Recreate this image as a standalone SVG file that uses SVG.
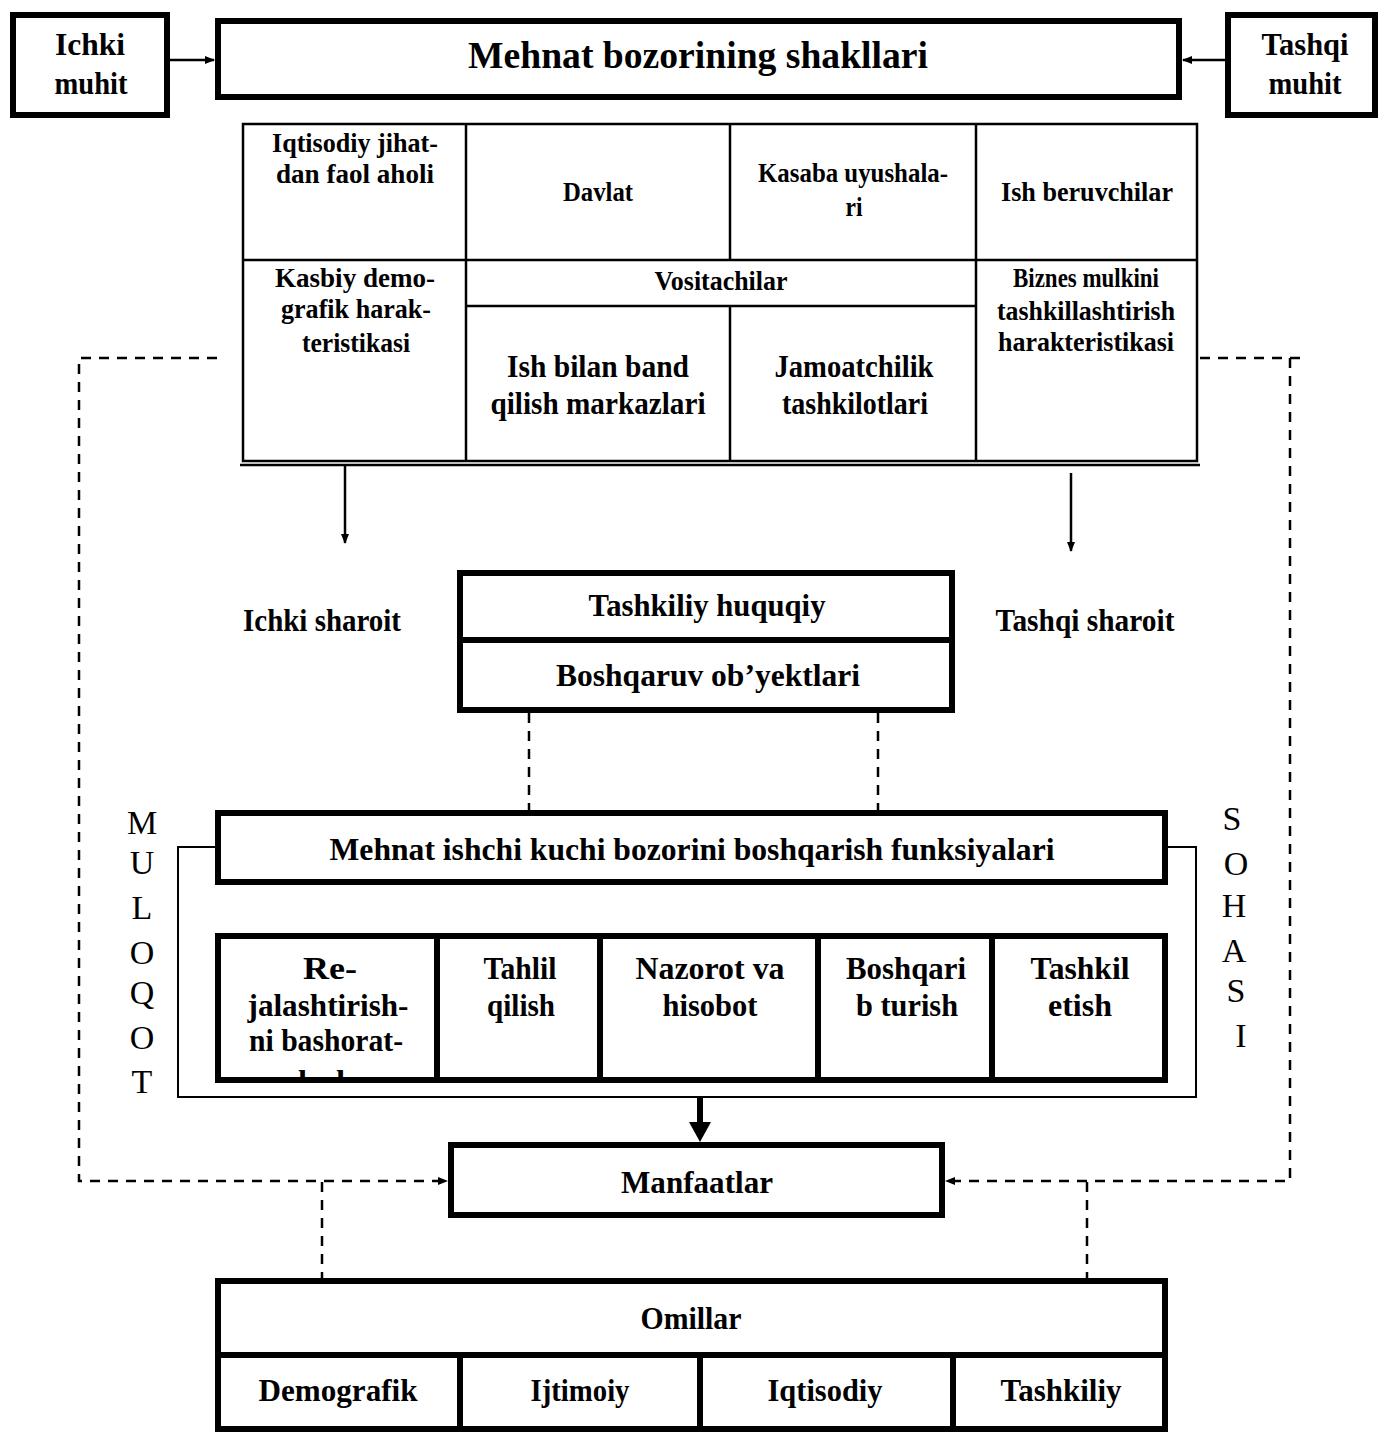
<svg xmlns="http://www.w3.org/2000/svg" width="1378" height="1434" viewBox="0 0 1378 1434">
<defs>
<style>
.thick{fill:#fff;stroke:#000;stroke-width:6}
.thin{fill:#fff;stroke:#000;stroke-width:2.5}
.ln{fill:none;stroke:#000;stroke-width:2.5}
.ln6{fill:none;stroke:#000;stroke-width:6}
.dash{fill:none;stroke:#000;stroke-width:2.5;stroke-dasharray:10 8}
.frame{fill:none;stroke:#000;stroke-width:2}
text{font-family:"Liberation Serif","Times New Roman",serif;fill:#000}
.b{font-weight:bold;text-anchor:middle}
.s27{font-size:27px}
.s31{font-size:31px}
.s32{font-size:32px}
.big{font-size:38px}
.let{font-size:34px;text-anchor:middle}
</style>
<marker id="ah" markerWidth="10" markerHeight="10" refX="9" refY="5" orient="auto" markerUnits="userSpaceOnUse">
<path d="M0,1 L10,5 L0,9 Z" fill="#000"/>
</marker>
<clipPath id="clipRe"><rect x="221" y="939" width="213" height="138"/></clipPath>
</defs>

<g id="connectors">
<line class="ln" x1="170" y1="60" x2="214" y2="60" marker-end="url(#ah)"/>
<line class="ln" x1="1225" y1="60" x2="1183" y2="60" marker-end="url(#ah)"/>
<line class="ln" x1="345" y1="466" x2="345" y2="543" marker-end="url(#ah)"/>
<line class="ln" x1="1071" y1="473" x2="1071" y2="551" marker-end="url(#ah)"/>
<polyline class="dash" points="217,358 79,358 79,1181 447,1181" marker-end="url(#ah)"/>
<polyline class="dash" points="1200,358 1305,358"/>
<polyline class="dash" points="1290,358 1290,1181 946,1181" marker-end="url(#ah)"/>
<line class="dash" x1="529" y1="713" x2="529" y2="810"/>
<line class="dash" x1="878" y1="713" x2="878" y2="810"/>
<line class="dash" x1="322" y1="1182" x2="322" y2="1278"/>
<line class="dash" x1="1087" y1="1182" x2="1087" y2="1278"/>
<polyline class="frame" points="215,847 178,847 178,1097 1196,1097 1196,847 1168,847"/>
<line class="ln6" x1="700" y1="1097" x2="700" y2="1124"/>
<polygon points="689,1122 711,1122 700,1142" fill="#000"/>
</g>

<g id="ichki-muhit">
<rect class="thick" x="13" y="15" width="154" height="100"/>
<text class="b s31" x="90" y="55" textLength="70" lengthAdjust="spacingAndGlyphs">Ichki</text>
<text class="b s31" x="91" y="94" textLength="73" lengthAdjust="spacingAndGlyphs">muhit</text>
</g>

<g id="title">
<rect class="thick" x="218" y="21" width="961" height="76"/>
<text class="b big" x="698" y="68" textLength="460" lengthAdjust="spacingAndGlyphs">Mehnat bozorining shakllari</text>
</g>

<g id="tashqi-muhit">
<rect class="thick" x="1228" y="15" width="147" height="100"/>
<text class="b s31" x="1305" y="55" textLength="87" lengthAdjust="spacingAndGlyphs">Tashqi</text>
<text class="b s31" x="1305" y="94" textLength="73" lengthAdjust="spacingAndGlyphs">muhit</text>
</g>

<g id="table">
<rect class="thin" x="243" y="124" width="954" height="337"/>
<line class="ln" x1="466" y1="124" x2="466" y2="461"/>
<line class="ln" x1="730" y1="124" x2="730" y2="260"/>
<line class="ln" x1="730" y1="306" x2="730" y2="461"/>
<line class="ln" x1="976" y1="124" x2="976" y2="461"/>
<line class="ln" x1="243" y1="260" x2="1197" y2="260"/>
<line class="ln" x1="466" y1="306" x2="976" y2="306"/>
<line class="ln" x1="240" y1="465" x2="1200" y2="465"/>
</g>

<g id="iqtisodiy-faol-aholi">
<text class="b s27" x="355" y="152" textLength="166" lengthAdjust="spacingAndGlyphs">Iqtisodiy jihat-</text>
<text class="b s27" x="355" y="183" textLength="158" lengthAdjust="spacingAndGlyphs">dan faol aholi</text>
</g>
<g id="davlat"><text class="b s27" x="598" y="201" textLength="70" lengthAdjust="spacingAndGlyphs">Davlat</text></g>
<g id="kasaba">
<text class="b s27" x="853" y="182" textLength="190" lengthAdjust="spacingAndGlyphs">Kasaba uyushala-</text>
<text class="b s27" x="854" y="216" textLength="17" lengthAdjust="spacingAndGlyphs">ri</text>
</g>
<g id="ish-beruvchilar"><text class="b s27" x="1087" y="201" textLength="172" lengthAdjust="spacingAndGlyphs">Ish beruvchilar</text></g>
<g id="kasbiy">
<text class="b s27" x="355" y="287" textLength="160" lengthAdjust="spacingAndGlyphs">Kasbiy demo-</text>
<text class="b s27" x="356" y="318" textLength="150" lengthAdjust="spacingAndGlyphs">grafik harak-</text>
<text class="b s27" x="356" y="352" textLength="108" lengthAdjust="spacingAndGlyphs">teristikasi</text>
</g>
<g id="vositachilar"><text class="b s27" x="721" y="290" textLength="133" lengthAdjust="spacingAndGlyphs">Vositachilar</text></g>
<g id="ish-bilan-band">
<text class="b s32" x="598" y="377" textLength="182" lengthAdjust="spacingAndGlyphs">Ish bilan band</text>
<text class="b s32" x="598" y="414" textLength="215" lengthAdjust="spacingAndGlyphs">qilish markazlari</text>
</g>
<g id="jamoatchilik">
<text class="b s32" x="854" y="377" textLength="159" lengthAdjust="spacingAndGlyphs">Jamoatchilik</text>
<text class="b s32" x="855" y="414" textLength="146" lengthAdjust="spacingAndGlyphs">tashkilotlari</text>
</g>
<g id="biznes">
<text class="b s27" x="1086" y="287" textLength="146" lengthAdjust="spacingAndGlyphs">Biznes mulkini</text>
<text class="b s27" x="1086" y="320" textLength="178" lengthAdjust="spacingAndGlyphs">tashkillashtirish</text>
<text class="b s27" x="1086" y="351" textLength="176" lengthAdjust="spacingAndGlyphs">harakteristikasi</text>
</g>

<g id="ichki-sharoit"><text class="b s31" x="322" y="631" textLength="158" lengthAdjust="spacingAndGlyphs">Ichki sharoit</text></g>
<g id="tashqi-sharoit"><text class="b s31" x="1085" y="631" textLength="179" lengthAdjust="spacingAndGlyphs">Tashqi sharoit</text></g>

<g id="tashkiliy-huquqiy">
<rect class="thick" x="460" y="573" width="492" height="137"/>
<line class="ln6" x1="460" y1="640" x2="952" y2="640"/>
<text class="b s31" x="707" y="616" textLength="237" lengthAdjust="spacingAndGlyphs">Tashkiliy huquqiy</text>
<text class="b s31" x="708" y="686" textLength="304" lengthAdjust="spacingAndGlyphs">Boshqaruv ob’yektlari</text>
</g>

<g id="funksiyalar">
<rect class="thick" x="218" y="813" width="947" height="69"/>
<text class="b s31" x="692" y="860" textLength="725" lengthAdjust="spacingAndGlyphs">Mehnat ishchi kuchi bozorini boshqarish funksiyalari</text>
</g>

<g id="funksiya-cells">
<rect class="thick" x="218" y="936" width="947" height="144"/>
<line class="ln6" x1="437" y1="936" x2="437" y2="1080"/>
<line class="ln6" x1="600" y1="936" x2="600" y2="1080"/>
<line class="ln6" x1="818" y1="936" x2="818" y2="1080"/>
<line class="ln6" x1="992" y1="936" x2="992" y2="1080"/>
</g>
<g id="rejalashtirish" clip-path="url(#clipRe)">
<text class="b s32" x="330" y="979" textLength="54" lengthAdjust="spacingAndGlyphs">Re-</text>
<text class="b s32" x="328" y="1016" textLength="161" lengthAdjust="spacingAndGlyphs">jalashtirish-</text>
<text class="b s32" x="326" y="1051" textLength="154" lengthAdjust="spacingAndGlyphs">ni bashorat-</text>
<text class="b s32" x="326" y="1092" textLength="56" lengthAdjust="spacingAndGlyphs">lash</text>
</g>
<g id="tahlil">
<text class="b s32" x="520" y="979" textLength="73" lengthAdjust="spacingAndGlyphs">Tahlil</text>
<text class="b s32" x="521" y="1016" textLength="68" lengthAdjust="spacingAndGlyphs">qilish</text>
</g>
<g id="nazorot">
<text class="b s32" x="710" y="979" textLength="149" lengthAdjust="spacingAndGlyphs">Nazorot va</text>
<text class="b s32" x="710" y="1016" textLength="95" lengthAdjust="spacingAndGlyphs">hisobot</text>
</g>
<g id="boshqarib">
<text class="b s32" x="906" y="979" textLength="120" lengthAdjust="spacingAndGlyphs">Boshqari</text>
<text class="b s32" x="907" y="1016" textLength="102" lengthAdjust="spacingAndGlyphs">b turish</text>
</g>
<g id="tashkil">
<text class="b s32" x="1080" y="979" textLength="99" lengthAdjust="spacingAndGlyphs">Tashkil</text>
<text class="b s32" x="1080" y="1016" textLength="64" lengthAdjust="spacingAndGlyphs">etish</text>
</g>

<g id="muloqot">
<text class="let" x="142" y="834">M</text>
<text class="let" x="142" y="874">U</text>
<text class="let" x="142" y="919">L</text>
<text class="let" x="142" y="964">O</text>
<text class="let" x="142" y="1004">Q</text>
<text class="let" x="142" y="1049">O</text>
<text class="let" x="142" y="1093">T</text>
</g>
<g id="sohasi">
<text class="let" x="1232" y="830">S</text>
<text class="let" x="1236" y="875">O</text>
<text class="let" x="1234" y="917">H</text>
<text class="let" x="1234" y="962">A</text>
<text class="let" x="1236" y="1002">S</text>
<text class="let" x="1241" y="1047">I</text>
</g>

<g id="manfaatlar">
<rect class="thick" x="451" y="1145" width="491" height="70"/>
<text class="b s32" x="697" y="1193" textLength="152" lengthAdjust="spacingAndGlyphs">Manfaatlar</text>
</g>

<g id="omillar">
<rect class="thick" x="218" y="1281" width="947" height="148"/>
<line class="ln6" x1="218" y1="1355" x2="1165" y2="1355"/>
<line class="ln6" x1="460" y1="1355" x2="460" y2="1429"/>
<line class="ln6" x1="700" y1="1355" x2="700" y2="1429"/>
<line class="ln6" x1="953" y1="1355" x2="953" y2="1429"/>
<text class="b s31" x="691" y="1329" textLength="101" lengthAdjust="spacingAndGlyphs">Omillar</text>
<text class="b s31" x="338" y="1401" textLength="159" lengthAdjust="spacingAndGlyphs">Demografik</text>
<text class="b s31" x="580" y="1401" textLength="99" lengthAdjust="spacingAndGlyphs">Ijtimoiy</text>
<text class="b s31" x="825" y="1401" textLength="115" lengthAdjust="spacingAndGlyphs">Iqtisodiy</text>
<text class="b s31" x="1061" y="1401" textLength="121" lengthAdjust="spacingAndGlyphs">Tashkiliy</text>
</g>
</svg>
